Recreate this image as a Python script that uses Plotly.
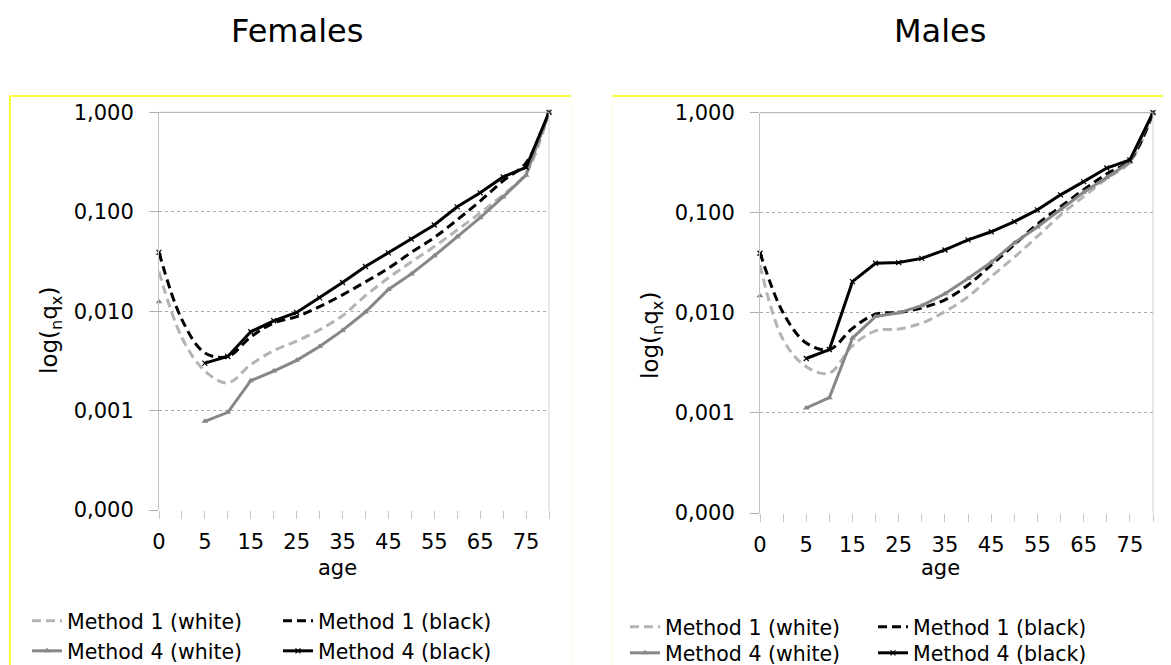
import plotly.graph_objects as go

# ---------------- data ----------------
ages = [0, 1, 5, 10, 15, 20, 25, 30, 35, 40, 45, 50, 55, 60, 65, 70, 75, 80]
age_labels = ["0", "", "5", "", "15", "", "25", "", "35", "", "45", "", "55", "", "65", "", "75", ""]

# Females
f_m1_white = [0.025, 0.0054, 0.0025, 0.0019, 0.0029, 0.0040, 0.0050, 0.0065, 0.0090, 0.0143,
              0.0216, 0.0313, 0.0446, 0.0656, 0.097, 0.148, 0.245, 1.0]
f_m1_black = [0.039, 0.0082, 0.0038, 0.0035, 0.0055, 0.0076, 0.0088, 0.0111, 0.0146, 0.0197,
              0.027, 0.039, 0.055, 0.083, 0.128, 0.205, 0.31, 1.0]
f_m4_white = [0.0124, None, 0.00078, 0.00096, 0.0020, 0.0025, 0.0032, 0.0044, 0.0064, 0.0098,
              0.0165, 0.0237, 0.036, 0.056, 0.087, 0.141, 0.233, 1.0]
f_m4_black = [0.039, None, 0.0030, 0.0035, 0.0062, 0.0080, 0.0097, 0.0136, 0.0194, 0.0281,
              0.0385, 0.053, 0.0736, 0.112, 0.155, 0.224, 0.28, 1.0]

# Males
m_m1_white = [0.030, 0.0054, 0.0029, 0.0025, 0.0047, 0.0066, 0.0069, 0.0079, 0.0103, 0.0145,
              0.023, 0.036, 0.058, 0.095, 0.145, 0.22, 0.32, 1.0]
m_m1_black = [0.040, 0.0100, 0.0050, 0.0043, 0.0070, 0.0097, 0.0101, 0.0112, 0.0135, 0.019,
              0.030, 0.048, 0.077, 0.115, 0.17, 0.245, 0.335, 1.0]
m_m4_white = [0.0148, None, 0.00112, 0.00142, 0.0056, 0.0092, 0.0100, 0.0118, 0.0155, 0.022,
              0.032, 0.050, 0.072, 0.108, 0.16, 0.225, 0.32, 1.0]
m_m4_black = [0.0394, None, 0.0035, 0.0043, 0.0205, 0.0313, 0.0318, 0.035, 0.0425, 0.0537,
              0.0646, 0.0815, 0.107, 0.151, 0.205, 0.28, 0.337, 1.0]

y_ticks = [0.0001, 0.001, 0.01, 0.1, 1.0]
y_tick_labels = ["0,000", "0,001", "0,010", "0,100", "1,000"]

series_names = ["Method 1 (white)", "Method 1 (black)", "Method 4 (white)", "Method 4 (black)"]
panel_titles = ["Females", "Males"]

# ---------------- figure ----------------
W, H = 1171, 665
OFF = 8  # page body margin: figure is drawn 8px in from the window corner
FONT = "DejaVu Sans"
LIGHT = "#b4b4b4"
MID = "#878787"

def px(x):
    return (x - OFF) / W

def py(y):
    return 1 - (y - OFF) / H

cats = [str(a) for a in ages]

styles = [
    dict(mode="lines", line=dict(color=LIGHT, width=3, dash="9px,5px", shape="spline")),
    dict(mode="lines", line=dict(color="black", width=3, dash="9px,5px", shape="spline")),
    dict(mode="lines+markers", line=dict(color=MID, width=3),
         marker=dict(symbol="triangle-up", size=6, color=MID)),
    dict(mode="lines+markers", line=dict(color="black", width=3),
         marker=dict(symbol="x-thin", size=5, line=dict(color="black", width=1.2))),
]

panels = [
    dict(data=[f_m1_white, f_m1_black, f_m4_white, f_m4_black], xa="x", ya="y",
         legends=["legend", "legend2", "legend3", "legend4"],
         leg_x=[27, 278, 27, 278], leg_y=[621, 621, 651, 651]),
    dict(data=[m_m1_white, m_m1_black, m_m4_white, m_m4_black], xa="x2", ya="y2",
         legends=["legend5", "legend6", "legend7", "legend8"],
         leg_x=[625, 873, 625, 873], leg_y=[627, 627, 653, 653]),
]

fig = go.Figure()
legend_layout = {}
for p in panels:
    for k, (vals, name) in enumerate(zip(p["data"], series_names)):
        fig.add_trace(go.Scatter(x=cats, y=vals, name=name, xaxis=p["xa"], yaxis=p["ya"],
                                 legend=p["legends"][k], connectgaps=False, cliponaxis=False,
                                 **styles[k]))
        legend_layout[p["legends"][k]] = dict(
            x=px(p["leg_x"][k]), y=py(p["leg_y"][k]), xanchor="left", yanchor="middle",
            bgcolor="rgba(0,0,0,0)", borderwidth=0,
            font=dict(family=FONT, size=20.5, color="black"), tracegroupgap=0)

xdom = [[px(159), px(549)], [px(760), px(1153)]]
ydom = [[py(510), py(112.3)], [py(513), py(112.7)]]

def xaxis_def(i):
    return dict(domain=xdom[i], type="category", range=[0, len(ages) - 1],
                tickmode="array", tickvals=cats, ticktext=age_labels,
                ticks="outside", ticklen=8, tickcolor="#c8c8c8", tickwidth=1,
                showline=False, showgrid=False, zeroline=False,
                tickfont=dict(family=FONT, size=21, color="black"),
                ticklabelstandoff=5, anchor="y" if i == 0 else "y2", fixedrange=True,
                automargin=False)

def yaxis_def(i):
    return dict(domain=ydom[i], type="log", range=[-4, 0],
                tickmode="array", tickvals=y_ticks, ticktext=y_tick_labels,
                ticks="outside", ticklen=9, tickcolor="#b0b0b0", tickwidth=1,
                showline=True, linecolor="#c0c0c0", linewidth=1,
                showgrid=True, gridcolor="#a8a8a8", gridwidth=1, griddash="dot",
                zeroline=False, tickfont=dict(family=FONT, size=21, color="black"),
                ticklabelstandoff=11, anchor="x" if i == 0 else "x2", fixedrange=True,
                automargin=False)

shapes = []
for i, (xr, yr) in enumerate([("x", "y"), ("x2", "y2")]):
    shapes.append(dict(type="line", xref=xr + " domain", yref=yr + " domain",
                       x0=0, x1=1, y0=1, y1=1, line=dict(color="#a8a8a8", width=1)))
    shapes.append(dict(type="line", xref=xr + " domain", yref=yr + " domain",
                       x0=1, x1=1, y0=0, y1=1, line=dict(color="#d0d0d0", width=1)))

# chart-area borders (yellow)
shapes += [
    dict(type="line", xref="paper", yref="paper", x0=px(10), x1=px(10), y0=py(96), y1=py(665),
         line=dict(color="#ffff00", width=1.5)),
    dict(type="line", xref="paper", yref="paper", x0=px(10), x1=px(571), y0=py(96), y1=py(96),
         line=dict(color="#ffff00", width=1.5)),
    dict(type="line", xref="paper", yref="paper", x0=px(571), x1=px(571), y0=py(96), y1=py(665),
         line=dict(color="#fffbe0", width=1)),
    dict(type="line", xref="paper", yref="paper", x0=px(612), x1=px(1171), y0=py(96), y1=py(96),
         line=dict(color="#ffff00", width=1.5)),
    dict(type="line", xref="paper", yref="paper", x0=px(612), x1=px(612), y0=py(96), y1=py(665),
         line=dict(color="#fffbe0", width=1)),
]

annotations = []
for title, cx in zip(panel_titles, [297, 940]):
    annotations.append(dict(text=title, x=px(cx), y=py(31), xref="paper", yref="paper",
                            xanchor="center", yanchor="middle", showarrow=False,
                            font=dict(family=FONT, size=32, color="black")))
for cx in [337, 940]:
    annotations.append(dict(text="age", x=px(cx), y=py(568), xref="paper", yref="paper",
                            xanchor="center", yanchor="middle", showarrow=False,
                            font=dict(family=FONT, size=21, color="black")))
for cx, cy in [(51, 331), (652, 335)]:
    annotations.append(dict(text="log(<sub>n</sub>q<sub>x</sub>)", x=px(cx), y=py(cy),
                            xref="paper", yref="paper", xanchor="center", yanchor="middle",
                            textangle=-90, showarrow=False,
                            font=dict(family=FONT, size=23, color="black")))

fig.update_layout(
    width=W, height=H, margin=dict(l=0, r=0, t=0, b=0, pad=0, autoexpand=False),
    paper_bgcolor="white", plot_bgcolor="white",
    xaxis=xaxis_def(0), yaxis=yaxis_def(0), xaxis2=xaxis_def(1), yaxis2=yaxis_def(1),
    shapes=shapes, annotations=annotations, showlegend=True,
    font=dict(family=FONT, color="black"),
    **legend_layout,
)

fig.write_html("out.html")
